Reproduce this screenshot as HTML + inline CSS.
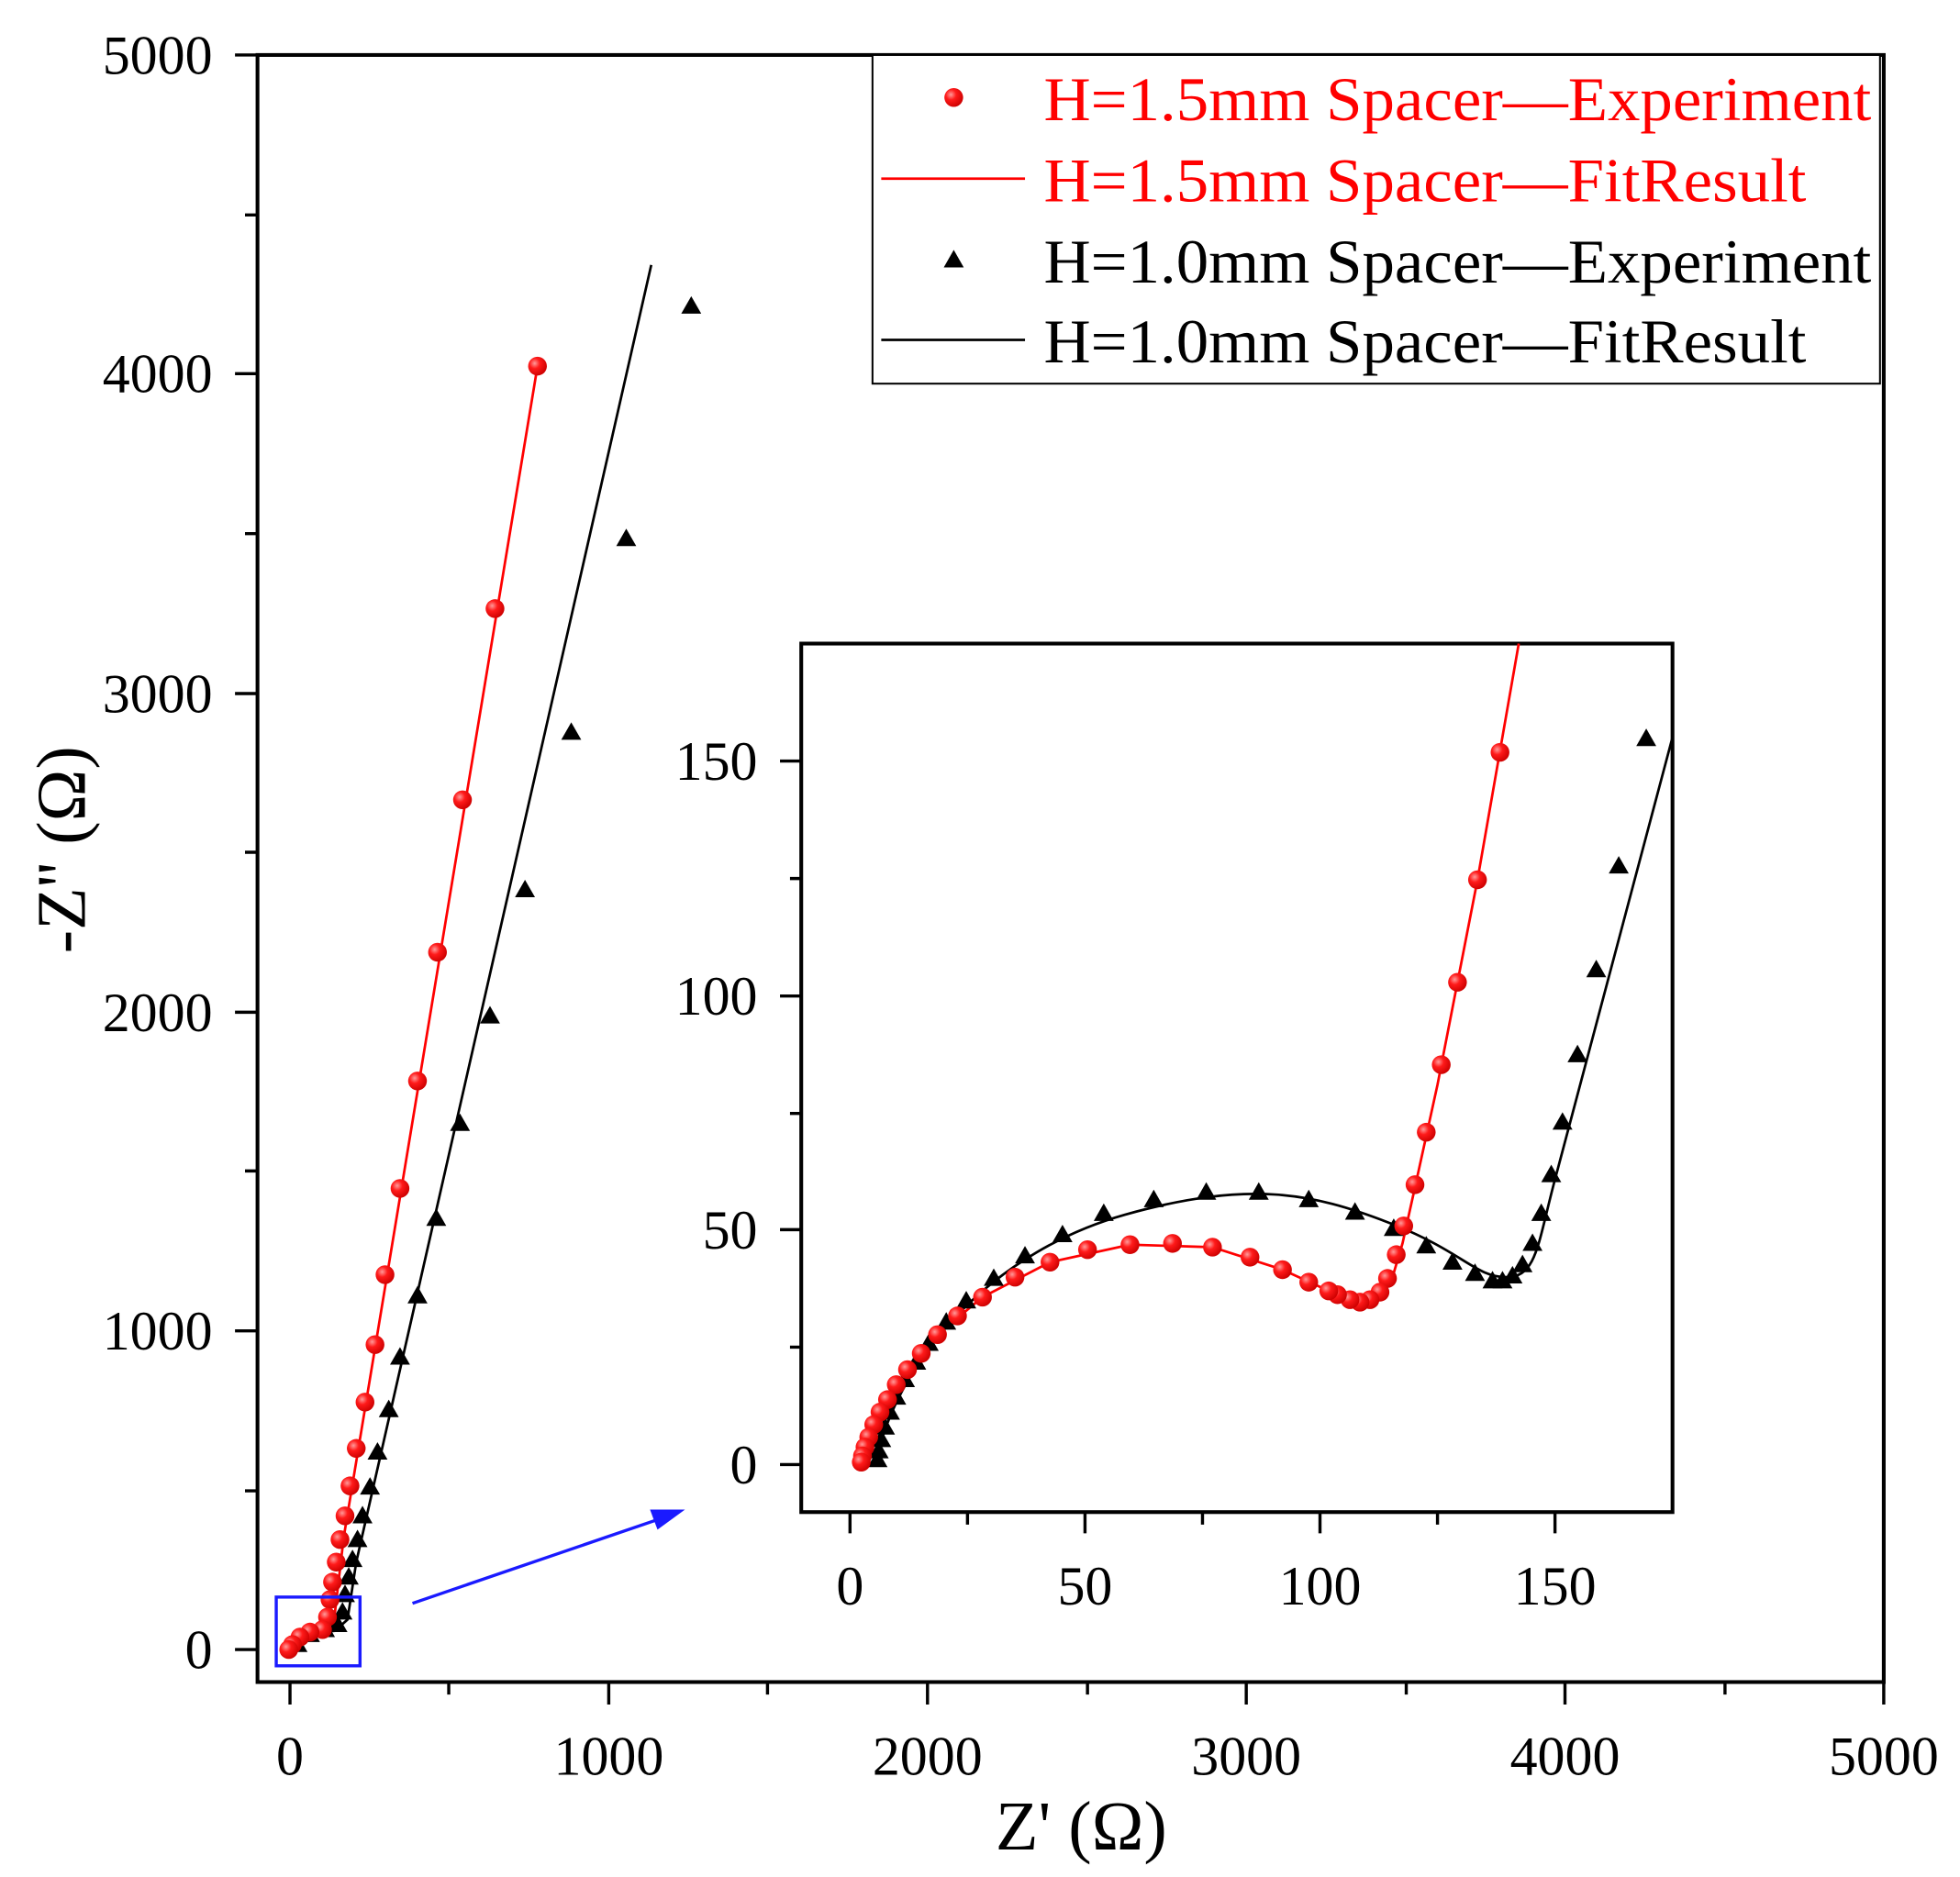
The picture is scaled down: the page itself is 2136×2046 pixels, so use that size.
<!DOCTYPE html>
<html><head><meta charset="utf-8"><style>html,body{margin:0;padding:0;background:#fff}svg{display:block}</style></head>
<body>
<svg xmlns="http://www.w3.org/2000/svg" width="2136" height="2046" viewBox="0 0 1568 1502" preserveAspectRatio="none" font-family="'Liberation Serif',serif">
<defs>
<radialGradient id="rg" cx="0.35" cy="0.35" r="0.7"><stop offset="0" stop-color="#ff9a9a"/><stop offset="0.4" stop-color="#ff1a1a"/><stop offset="1" stop-color="#c00"/></radialGradient>
<path id="t" d="M0,-8 L8,6 L-8,6 Z" fill="#000"/>
<circle id="cc" r="7.5" fill="url(#rg)"/>
</defs>
<rect x="206" y="44" width="1301" height="1302" fill="none" stroke="#000" stroke-width="3"/>
<g stroke="#000" stroke-width="2.5">
<path d="M188,44H206M188,299H206M188,555H206M188,810H206M188,1065H206M188,1320H206"/>
<path d="M196,172H206M196,427H206M196,682H206M196,937H206M196,1193H206"/>
<path d="M232,1346V1364M487,1346V1364M742,1346V1364M997,1346V1364M1252,1346V1364M1507,1346V1364"/>
<path d="M359,1346V1356M614,1346V1356M870,1346V1356M1125,1346V1356M1380,1346V1356"/>
</g>
<g font-size="44" text-anchor="end">
<text x="170" y="59">5000</text><text x="170" y="314">4000</text><text x="170" y="570">3000</text>
<text x="170" y="825">2000</text><text x="170" y="1080">1000</text><text x="170" y="1335">0</text>
</g>
<g font-size="44" text-anchor="middle">
<text x="232" y="1420">0</text><text x="487" y="1420">1000</text><text x="742" y="1420">2000</text>
<text x="997" y="1420">3000</text><text x="1252" y="1420">4000</text><text x="1507" y="1420">5000</text>
</g>
<text x="865" y="1480" font-size="56" text-anchor="middle">Z' (Ω)</text>
<text transform="translate(68,680) rotate(-90)" font-size="56" text-anchor="middle">-Z'' (Ω)</text>
<polyline points="230,1320 240,1312 252,1306 262,1304 268,1290 275,1230 430,293" fill="none" stroke="red" stroke-width="2"/>
<polyline points="232,1320 244,1312 256,1306 268,1305 278,1296 285,1250 521,212" fill="none" stroke="#000" stroke-width="2"/>
<g>
<use href="#t" x="553" y="245"/><use href="#t" x="501" y="431"/><use href="#t" x="457" y="586"/><use href="#t" x="420" y="712"/><use href="#t" x="392" y="813"/><use href="#t" x="368" y="899"/><use href="#t" x="349" y="975"/><use href="#t" x="334" y="1037"/><use href="#t" x="320" y="1086"/><use href="#t" x="311" y="1128"/><use href="#t" x="302" y="1162"/><use href="#t" x="296" y="1190"/><use href="#t" x="290" y="1213"/><use href="#t" x="286" y="1232"/><use href="#t" x="282" y="1248"/><use href="#t" x="279" y="1262"/><use href="#t" x="276" y="1276"/><use href="#t" x="274" y="1290"/><use href="#t" x="270" y="1300"/><use href="#t" x="260" y="1304"/><use href="#t" x="248" y="1308"/><use href="#t" x="238" y="1316"/>
<use href="#cc" x="430" y="293"/><use href="#cc" x="396" y="487"/><use href="#cc" x="370" y="640"/><use href="#cc" x="350" y="762"/><use href="#cc" x="334" y="865"/><use href="#cc" x="320" y="951"/><use href="#cc" x="308" y="1020"/><use href="#cc" x="300" y="1076"/><use href="#cc" x="292" y="1122"/><use href="#cc" x="285" y="1159"/><use href="#cc" x="280" y="1189"/><use href="#cc" x="276" y="1213"/><use href="#cc" x="272" y="1232"/><use href="#cc" x="269" y="1250"/><use href="#cc" x="266" y="1266"/><use href="#cc" x="264" y="1280"/><use href="#cc" x="262" y="1294"/><use href="#cc" x="258" y="1304"/><use href="#cc" x="248" y="1306"/><use href="#cc" x="240" y="1310"/><use href="#cc" x="234" y="1316"/><use href="#cc" x="231" y="1320"/>
</g>
<rect x="221" y="1278" width="67" height="55" fill="none" stroke="#1a1aff" stroke-width="2.5"/>
<line x1="330" y1="1283" x2="532" y2="1214" stroke="#1a1aff" stroke-width="2.5"/>
<path d="M548,1208 L526,1224 L520,1208 Z" fill="#1a1aff"/>
<rect x="698" y="44" width="806" height="263" fill="#fff" stroke="#000" stroke-width="1.5"/>
<use href="#cc" x="763" y="78"/>
<line x1="705" y1="143" x2="820" y2="143" stroke="red" stroke-width="2"/>
<use href="#t" x="763" y="208"/>
<line x1="705" y1="272" x2="820" y2="272" stroke="#000" stroke-width="2"/>
<g font-size="50">
<text x="835" y="96" fill="red" textLength="662" lengthAdjust="spacingAndGlyphs">H=1.5mm Spacer—Experiment</text>
<text x="835" y="161" fill="red" textLength="610" lengthAdjust="spacingAndGlyphs">H=1.5mm Spacer—FitResult</text>
<text x="835" y="226" textLength="662" lengthAdjust="spacingAndGlyphs">H=1.0mm Spacer—Experiment</text>
<text x="835" y="290" textLength="610" lengthAdjust="spacingAndGlyphs">H=1.0mm Spacer—FitResult</text>
</g>
<rect x="641" y="515" width="697" height="695" fill="#fff" stroke="#000" stroke-width="3"/>
<g stroke="#000" stroke-width="2.5">
<path d="M624,609H641M624,797H641M624,984H641M624,1172H641"/>
<path d="M632,703H641M632,891H641M632,1078H641"/>
<path d="M680,1210V1227M868,1210V1227M1056,1210V1227M1244,1210V1227"/>
<path d="M774,1210V1220M962,1210V1220M1150,1210V1220"/>
</g>
<g font-size="44" text-anchor="end">
<text x="606" y="624">150</text><text x="606" y="812">100</text><text x="606" y="999">50</text><text x="606" y="1187">0</text>
</g>
<g font-size="44" text-anchor="middle">
<text x="680" y="1284">0</text><text x="868" y="1284">50</text><text x="1056" y="1284">100</text><text x="1244" y="1284">150</text>
</g>
<polyline fill="none" stroke="red" stroke-width="2" points="689,1170 692,1158 699,1140 710,1120 726,1096 750,1068 786,1038 840,1010 904,996 970,998 1026,1016 1063,1033 1088,1042 1104,1036 1114,1022 1122,995 1132,950 1150,868 1182,704 1215,515"/>
<path fill="none" stroke="#000" stroke-width="2" d="M700,1172 C720,1080 800,1000 900,972 S1050,955 1110,978 S1180,1022 1205,1022 S1230,995 1245,940 L1338,590"/>
<g>
<use href="#t" x="1317" y="591"/><use href="#t" x="1295" y="693"/><use href="#t" x="1277" y="776"/><use href="#t" x="1262" y="844"/><use href="#t" x="1250" y="898"/><use href="#t" x="1241" y="940"/><use href="#t" x="1233" y="971"/><use href="#t" x="1226" y="995"/><use href="#t" x="1218" y="1012"/><use href="#t" x="1210" y="1021"/><use href="#t" x="1202" y="1025"/><use href="#t" x="1194" y="1025"/><use href="#t" x="1180" y="1019"/><use href="#t" x="1162" y="1010"/><use href="#t" x="1141" y="997"/><use href="#t" x="1115" y="983"/><use href="#t" x="1084" y="970"/><use href="#t" x="1047" y="960"/><use href="#t" x="1007" y="954"/><use href="#t" x="965" y="954"/><use href="#t" x="923" y="960"/><use href="#t" x="883" y="971"/><use href="#t" x="850" y="988"/><use href="#t" x="820" y="1005"/><use href="#t" x="795" y="1023"/><use href="#t" x="773" y="1041"/><use href="#t" x="757" y="1058"/><use href="#t" x="743" y="1075"/><use href="#t" x="733" y="1090"/><use href="#t" x="724" y="1104"/><use href="#t" x="717" y="1118"/><use href="#t" x="712" y="1130"/><use href="#t" x="708" y="1142"/><use href="#t" x="705" y="1152"/><use href="#t" x="703" y="1161"/><use href="#t" x="702" y="1168"/>
<use href="#cc" x="1200" y="602"/><use href="#cc" x="1182" y="704"/><use href="#cc" x="1166" y="786"/><use href="#cc" x="1153" y="852"/><use href="#cc" x="1141" y="906"/><use href="#cc" x="1132" y="948"/><use href="#cc" x="1123" y="981"/><use href="#cc" x="1117" y="1004"/><use href="#cc" x="1110" y="1023"/><use href="#cc" x="1104" y="1034"/><use href="#cc" x="1096" y="1040"/><use href="#cc" x="1088" y="1042"/><use href="#cc" x="1080" y="1040"/><use href="#cc" x="1070" y="1036"/><use href="#cc" x="1063" y="1033"/><use href="#cc" x="1047" y="1026"/><use href="#cc" x="1026" y="1016"/><use href="#cc" x="1000" y="1006"/><use href="#cc" x="970" y="998"/><use href="#cc" x="938" y="995"/><use href="#cc" x="904" y="996"/><use href="#cc" x="870" y="1000"/><use href="#cc" x="840" y="1010"/><use href="#cc" x="812" y="1022"/><use href="#cc" x="786" y="1038"/><use href="#cc" x="766" y="1053"/><use href="#cc" x="750" y="1068"/><use href="#cc" x="737" y="1083"/><use href="#cc" x="726" y="1096"/><use href="#cc" x="717" y="1108"/><use href="#cc" x="710" y="1120"/><use href="#cc" x="704" y="1130"/><use href="#cc" x="699" y="1140"/><use href="#cc" x="695" y="1150"/><use href="#cc" x="692" y="1158"/><use href="#cc" x="690" y="1165"/><use href="#cc" x="689" y="1170"/>
</g>
</svg>
</body></html>
